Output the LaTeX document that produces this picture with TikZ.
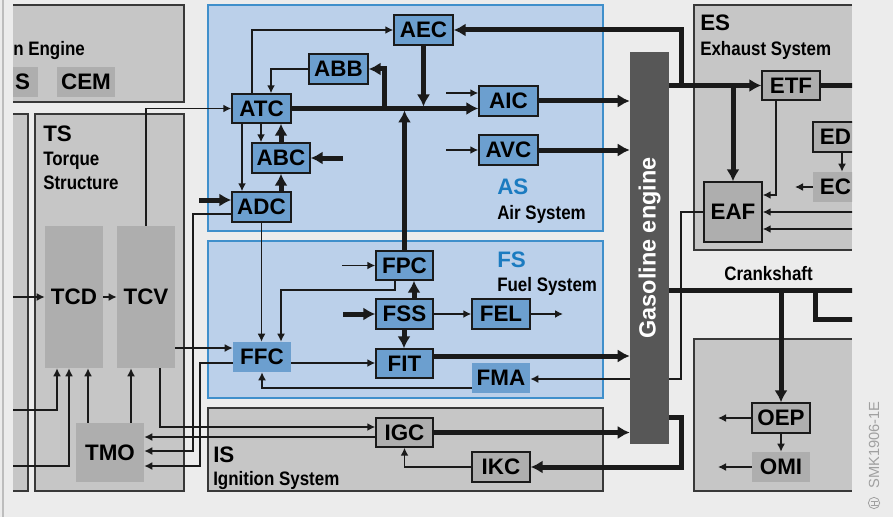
\documentclass[tikz,border=0pt]{standalone}
\usepackage{fontspec}
\setmainfont{Liberation Sans}
\usepackage{graphicx}
\usetikzlibrary{arrows.meta,calc}
\pgfdeclarelayer{bg}\pgfdeclarelayer{mid}
\pgfsetlayers{bg,mid,main}
\definecolor{pagebg}{HTML}{ECECEC}
\definecolor{sysgray}{HTML}{C6C6C6}
\definecolor{nodegray}{HTML}{AEAEAE}
\definecolor{sysblue}{HTML}{BBD0EA}
\definecolor{bluebord}{HTML}{3F8FCB}
\definecolor{nodeblue}{HTML}{6C9FCF}
\definecolor{dark}{HTML}{1A1A1A}
\definecolor{boxbord}{HTML}{383838}
\definecolor{engcol}{HTML}{575757}
\definecolor{titleblue}{HTML}{1B7BC0}
\definecolor{wm}{HTML}{A0A0A0}
\definecolor{edge}{HTML}{BDBDBD}
\newcommand\lab{\fontsize{16.8pt}{18pt}\selectfont\bfseries}
\newcommand\cnd[1]{\scalebox{0.87}[1]{\fontsize{14.6pt}{16pt}\selectfont\bfseries #1}}
\newcommand\bx[7]{\node[#2, minimum width={(#5-#3)*0.75pt}, minimum height={(#6-#4)*0.75pt}] (#1) at ({(#3+#5)/2},{(#4+#6)/2}) {#7};}
\tikzset{
 bnode/.style={draw=dark, line width=1.1pt, fill=nodeblue, inner sep=0pt, font=\lab},
 bnodeplain/.style={fill=nodeblue, inner sep=0pt, font=\lab},
 gnode/.style={draw=dark, line width=1.1pt, fill=nodegray, inner sep=0pt, font=\lab},
 gnodeplain/.style={fill=nodegray, inner sep=0pt, font=\lab},
 thinline/.style={draw=dark, line width=1.15pt},
 thinarr/.style={thinline, -{Latex[length=6pt,width=6pt]}},
 thickline/.style={draw=dark, line width=3.75pt},
 thickarr/.style={thickline, -{Latex[length=9pt,width=10pt]}},
 title/.style={anchor=base west, inner sep=0pt, font=\lab},
 subtitle/.style={anchor=base west, inner sep=0pt},
 grayframe/.style={draw=boxbord, line width=0.8pt},
 blueframe/.style={fill=sysblue, draw=bluebord, line width=0.8pt},
}
\begin{document}
\begin{tikzpicture}[x=0.75pt, y=-0.75pt]
\useasboundingbox (0,0) rectangle (893,517);

% ---------- background and system frames ----------
\begin{pgfonlayer}{bg}
\fill[pagebg] (0,0) rectangle (893,517);
\draw[edge, line width=1.5pt] (3,0) -- (3,517);
\fill[sysgray] (13,5) rectangle (184,102);
\draw[grayframe] (13,5) -- (184,5) -- (184,102) -- (13,102);
\fill[sysgray] (13,114) rectangle (28,491);
\draw[grayframe] (13,114) -- (28,114) -- (28,491) -- (13,491);
\fill[sysgray, grayframe] (35,114) rectangle (184,491);
\path[blueframe] (208,5) rectangle (603,231);
\path[blueframe] (208,241) rectangle (603,398);
\fill[sysgray, grayframe] (208,408) rectangle (603,491);
\fill[sysgray] (694,5) rectangle (852,250);
\draw[grayframe] (852,5) -- (694,5) -- (694,250) -- (852,250);
\fill[sysgray] (694,339) rectangle (852,491);
\draw[grayframe] (852,339) -- (694,339) -- (694,491) -- (852,491);
\end{pgfonlayer}

\begin{scope}
\clip (13,0) rectangle (852,517);

% ---------- helper coordinates ----------
\foreach \c in {57,69,88,131,160,193,200,242,252,261,271,281,384,395,404,414,681,776,815,842,860}
  {\coordinate (c\c) at (\c,0);}
\foreach \r in {214,290,319,348,356,363,379,388,417,427,437,451,466,195}
  {\coordinate (r\r) at (0,\r);}
\coordinate (iAIC) at (446,93);
\coordinate (iAVC) at (446,150);
\coordinate (iABC) at (343,158);
\coordinate (iADC) at (199,200);
\coordinate (iFPC) at (342,265.5);
\coordinate (iFSS) at (343,314);
\coordinate (oFEL) at (563,314);
\coordinate (oEC) at (795,187);
\coordinate (iEAF1) at (860,212);
\coordinate (iEAF2) at (860,229);
\coordinate (oOEP) at (718,418);
\coordinate (oOMI) at (718,467);
\coordinate (iTCD) at (13,297);
\coordinate (iT1) at (13,410);
\coordinate (iT2) at (13,466);

% ---------- nodes ----------
\bx{S}{gnodeplain}{13}{67}{38}{97}{S\hspace*{4.5pt}}
\bx{CEM}{gnodeplain}{57}{67}{115}{97}{CEM}
\bx{TCD}{gnodeplain}{45}{226}{103}{368}{TCD}
\bx{TCV}{gnodeplain}{117}{226}{175}{368}{TCV}
\bx{TMO}{gnodeplain}{76}{423}{144}{482}{TMO}
\bx{AEC}{bnode}{394}{15}{453}{45}{AEC}
\bx{ABB}{bnode}{309}{54}{368}{84}{ABB}
\bx{ATC}{bnode}{232}{94}{291}{123}{ATC}
\bx{ABC}{bnode}{252}{143}{310}{173}{ABC}
\bx{ADC}{bnode}{232}{192}{291}{222}{ADC}
\bx{AIC}{bnode}{479}{86}{538}{116}{AIC}
\bx{AVC}{bnode}{479}{135}{538}{165}{AVC}
\bx{FPC}{bnode}{376}{251}{433}{280}{FPC}
\bx{FSS}{bnode}{376}{299}{433}{329}{FSS}
\bx{FIT}{bnode}{376}{349}{433}{378}{FIT}
\bx{FEL}{bnode}{472}{299}{530}{329}{FEL}
\bx{FFC}{bnodeplain}{233}{342}{291}{372}{FFC}
\bx{FMA}{bnodeplain}{472}{363}{530}{393}{FMA}
\bx{IGC}{gnode}{376}{418}{433}{447}{IGC}
\bx{IKC}{gnode}{472}{452}{530}{482}{IKC}
\bx{Eng}{fill=engcol, inner sep=0pt}{630}{52}{669}{444}{}
\node[rotate=90, text=white, inner sep=0pt, font=\fontsize{17.6pt}{19pt}\selectfont\bfseries] (EngT) at (649.5,248) {Gasoline engine};
\bx{ETF}{gnode}{762}{71}{820}{100}{ETF}
\bx{EAF}{gnode}{704}{182}{762}{242}{EAF}
\bx{ED}{gnode}{813}{122}{858}{152}{ED}
\bx{EC}{gnodeplain}{813}{172}{858}{202}{EC}
\bx{OEP}{gnode}{752}{403}{810}{433}{OEP}
\bx{OMI}{gnodeplain}{752}{452}{810}{482}{OMI}

% ---------- titles ----------
\node[subtitle] (tEng) at (13,56) {\cnd{n Engine}};
\node[title] (tTS) at (43,142) {TS};
\node[subtitle] (tTS1) at (43,166) {\cnd{Torque}};
\node[subtitle] (tTS2) at (43,190) {\cnd{Structure}};
\node[title, text=titleblue] (tAS) at (497,195) {AS};
\node[subtitle] (tAS2) at (497,219) {\cnd{Air System}};
\node[title, text=titleblue] (tFS) at (497,267) {FS};
\node[subtitle] (tFS2) at (497,291) {\cnd{Fuel System}};
\node[title] (tIS) at (213,462) {IS};
\node[subtitle] (tIS2) at (213,485) {\cnd{Ignition System}};
\node[title] (tES) at (700,31) {ES};
\node[subtitle] (tES2) at (700,56) {\cnd{Exhaust System}};
\node[subtitle] (tCS) at (724,280) {\cnd{Crankshaft}};

% ---------- connectors: air system ----------
\draw[thinarr] (ATC.north -| c252) |- (AEC.west);
\draw[thinarr] (ABB.west) -| (ATC.north -| c271);
\draw[thickarr] (ATC.east) -- (ATC.east -| AIC.west);
\draw[thickarr] (ATC.east -| c384) |- (ABB.east);
\draw[thickarr, shorten >=1.5pt] (AEC.south) -- (AEC.south |- ATC.east);
\draw[thickarr, shorten >=1.5pt] (FPC.north) -- (FPC.north |- ATC.east);
\draw[thickarr] (ETF.west -| Eng.east) -- (ETF.west);
\draw[thickarr] (ETF.west -| c681) |- (AEC.east);
\draw[thinarr] (iAIC) -- (iAIC -| AIC.west);
\draw[thinarr] (iAVC) -- (AVC.west);
\draw[thickarr] (AIC.east) -- (AIC.east -| Eng.west);
\draw[thickarr] (AVC.east) -- (AVC.east -| Eng.west);
\draw[thinarr] (ATC.south -| c261) -- (ABC.north -| c261);
\draw[thickarr] (ABC.north -| c281) -- (ATC.south -| c281);
\draw[thickarr] (ADC.north -| c281) -- (ABC.south -| c281);
\draw[thinarr] (ATC.south -| c242) -- (ADC.north -| c242);
\draw[thickarr] (iABC) -- (ABC.east);
\draw[thickarr] (iADC) -- (iADC -| ADC.west);
\draw[thinarr] (ADC.west |- r214) -| (c193 |- r451) -- (TMO.east |- r451);

% ---------- connectors: fuel system ----------
\draw[thinarr] (ADC.south) -- (ADC.south |- FFC.north);
\draw[thinarr] (FPC.south -| c395) |- (c281 |- r290) -- (FFC.north -| c281);
\draw[thinarr] (TCV.east |- r348) -- (FFC.west |- r348);
\draw[thinarr] (FFC.east |- r363) -- (FIT.west |- r363);
\draw[thinarr] (FMA.west |- r388) -| (FFC.south);
\draw[thinarr] (FFC.west |- r363) -| (c200 |- r466) -- (TMO.east |- r466);
\draw[thinarr] (iFPC) -- (FPC.west);
\draw[thickarr] (FSS.north -| c414) -- (FPC.south -| c414);
\draw[thickarr] (FSS.south -| c404) -- (FIT.north -| c404);
\draw[thickarr] (iFSS) -- (FSS.west);
\draw[thinarr] (FSS.east) -- (FEL.west);
\draw[thinarr] (FEL.east) -- (oFEL);
\draw[thickarr] (FIT.east |- r356) -- (Eng.west |- r356);
\begin{pgfonlayer}{mid}
\draw[thinarr] (EAF.west) -| (c681 |- r379) -- (FMA.east |- r379);
\end{pgfonlayer}

% ---------- connectors: ignition ----------
\draw[thinarr] (TCV.south -| c160) |- (IGC.west |- r427);
\draw[thinarr] (IGC.west |- r437) -- (TMO.east |- r437);
\draw[thickarr] (IGC.east) -- (IGC.east -| Eng.west);
\draw[thickarr] (Eng.east |- r417) -| (c681 |- IKC.east) -- (IKC.east);
\draw[thinarr] (IKC.west) -| (IGC.south);

% ---------- connectors: exhaust ----------
\draw[thickline] (ETF.east) -- (ETF.east -| c860);
\draw[thickarr] (EAF.north |- ETF.west) -- (EAF.north);
\draw[thinarr] (ETF.south -| c776) |- (EAF.east |- r195);
\draw[thinarr] (ED.south -| c842) -- (EC.north -| c842);
\draw[thinarr] (EC.west) -- (oEC);
\draw[thinarr] (iEAF1) -- (iEAF1 -| EAF.east);
\draw[thinarr] (iEAF2) -- (iEAF2 -| EAF.east);

% ---------- crankshaft ----------
\draw[thickline] (Eng.east |- r290) -- (c860 |- r290);
\draw[thickarr] (OEP.north |- r290) -- (OEP.north);
\draw[thickline] (c815 |- r290) |- (c860 |- r319);
\draw[thinarr] (OEP.south) -- (OMI.north);
\draw[thinarr] (OEP.west) -- (oOEP);
\draw[thinarr] (OMI.west) -- (oOMI);

% ---------- torque structure ----------
\draw[thinarr] (iTCD) -- (TCD.west);
\draw[thinarr] (TCD.east) -- (TCV.west);
\draw[thinarr] (TCV.north) |- (ATC.west);
\draw[thinarr] (iT1) -| (TCD.south -| c57);
\draw[thinarr] (iT2) -| (TCD.south -| c69);
\draw[thinarr] (TMO.north -| c88) -- (TCD.south -| c88);
\draw[thinarr] (TMO.north -| c131) -- (TCV.south -| c131);
\end{scope}

% ---------- watermark ----------
\node[rotate=90, text=wm, inner sep=0pt, font=\fontsize{11pt}{12pt}\selectfont] (wmk) at (874,445) {SMK1906-1E};
\node[circle, draw=wm, line width=0.6pt, minimum size=8.5pt, inner sep=0pt] (logo) at (874,503) {};
\draw[wm, line width=0.5pt] ($(logo.center)+(-3.5,-2)$) -- ($(logo.center)+(3.5,-2)$)
  ($(logo.center)+(-3.5,2)$) -- ($(logo.center)+(3.5,2)$)
  ($(logo.center)+(0,-2)$) -- ($(logo.center)+(0,2)$);
\end{tikzpicture}
\end{document}
